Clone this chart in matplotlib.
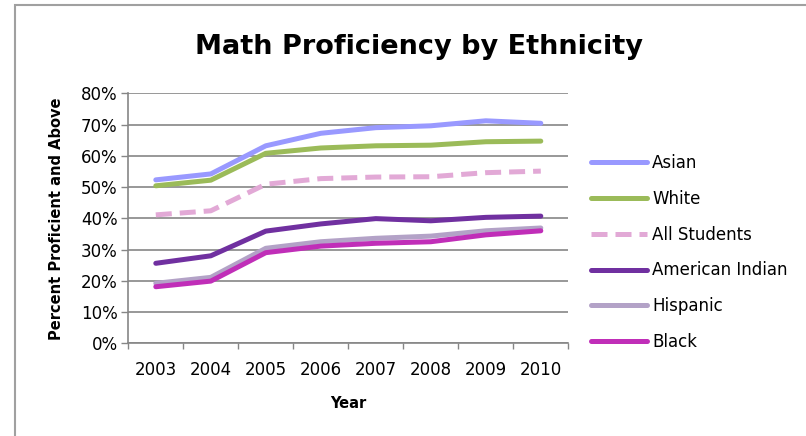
import matplotlib
matplotlib.use("Agg")
import matplotlib.pyplot as plt
from matplotlib.patches import Rectangle
from matplotlib.ticker import PercentFormatter, FixedLocator
import numpy as np

years = ["2003", "2004", "2005", "2006", "2007", "2008", "2009", "2010"]

asian = [0.523, 0.542, 0.632, 0.672, 0.690, 0.696, 0.712, 0.704]
white = [0.504, 0.522, 0.608, 0.625, 0.632, 0.634, 0.645, 0.647]
all_students = [0.411, 0.424, 0.509, 0.527, 0.532, 0.533, 0.546, 0.551]
american_indian = [0.256, 0.280, 0.359, 0.382, 0.399, 0.392, 0.403, 0.407]
hispanic = [0.192, 0.211, 0.304, 0.325, 0.336, 0.343, 0.360, 0.369]
black = [0.181, 0.199, 0.290, 0.311, 0.320, 0.325, 0.347, 0.360]

plt.rcParams["font.family"] = ["DejaVu Sans"]

fig = plt.figure(figsize=(8.06, 4.36), dpi=100)
ax = fig.add_axes([128.3 / 806, 1 - 343.3 / 436, 440 / 806, 250 / 436])

# outer chart border
fig.patches.append(Rectangle((15 / 806, -0.1), 1.2, 1.1 - 5 / 436, transform=fig.transFigure,
                             fill=False, edgecolor="#a0a0a0", lw=1.5, clip_on=False))

x = np.arange(len(years))
lw = 3.6
ax.plot(x, asian, color="#9999ff", lw=lw, label="Asian", solid_capstyle="round")
ax.plot(x, white, color="#9bbb59", lw=lw, label="White", solid_capstyle="round")
ax.plot(x, all_students, color="#e2a9d6", lw=lw, label="All Students", linestyle=(0, (3.2, 1.6)))
ax.plot(x, american_indian, color="#7030a0", lw=lw, label="American Indian", solid_capstyle="round")
ax.plot(x, hispanic, color="#b3a2c7", lw=lw, label="Hispanic", solid_capstyle="round")
ax.plot(x, black, color="#c02eb8", lw=lw, label="Black", solid_capstyle="round")

ax.set_xlim(-0.5, len(years) - 0.5)
ax.set_ylim(0, 0.8)
ax.set_yticks(np.arange(0, 0.81, 0.1))
ax.yaxis.set_major_formatter(PercentFormatter(1.0, decimals=0))
ax.set_xticks(x)
ax.set_xticklabels(years)
ax.xaxis.set_minor_locator(FixedLocator(np.arange(-0.5, len(years), 1)))
ax.tick_params(axis="x", which="major", length=0, pad=13, labelsize=12)
ax.tick_params(axis="x", which="minor", length=4, color="#868686", width=1)
ax.tick_params(axis="y", length=4.7, color="#868686", width=1, pad=3, labelsize=12)

ax.set_axisbelow(True)
ax.yaxis.grid(color="#868686", lw=1.2)
ax.spines["top"].set_visible(False)
ax.spines["right"].set_visible(False)
ax.spines["left"].set_color("#868686")
ax.spines["bottom"].set_color("#868686")
ax.spines["left"].set_linewidth(1.2)
ax.spines["bottom"].set_linewidth(1.2)

ax.set_ylabel("Percent Proficient and Above", fontsize=10.5, fontweight="bold", labelpad=12)
ax.set_xlabel("Year", fontsize=10.5, fontweight="bold", labelpad=12)
fig.text(419 / 806, 1 - 47 / 436, "Math Proficiency by Ethnicity", fontsize=19.5,
         fontweight="bold", ha="center", va="center")

fig.legend(loc="center left", bbox_to_anchor=(576 / 806, 1 - 252.5 / 436), frameon=False,
           fontsize=12, handlelength=3.36, handletextpad=0.3, labelspacing=1.07)

fig.savefig("out.png", dpi=100)
